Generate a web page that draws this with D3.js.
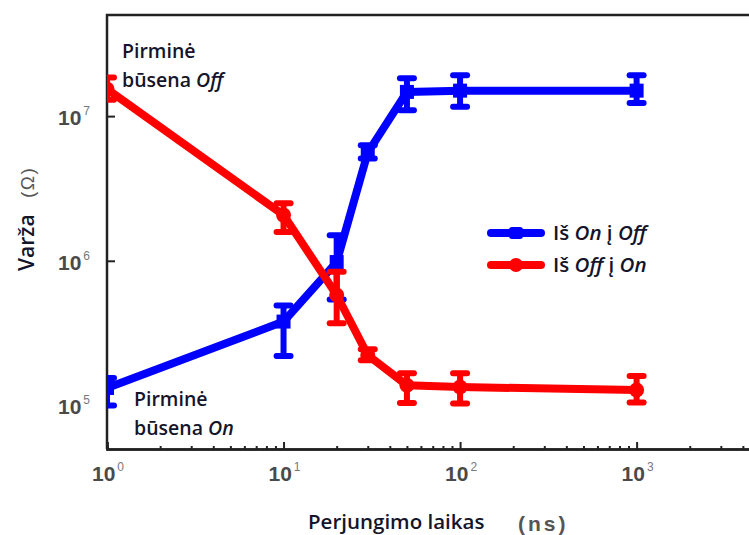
<!DOCTYPE html>
<html>
<head>
<meta charset="utf-8">
<script src="https://cdn.jsdelivr.net/npm/d3@7"></script>
<style>
  html, body { margin: 0; padding: 0; background: #fff; overflow: hidden; }
  svg { display: block; }
</style>
</head>
<body>
<svg id="chart" width="749" height="535"></svg>
<script>
// Switching time (ns) and resistance (Ω) for both switching directions
const times = [1, 10, 20, 30, 50, 100, 1000];

const onToOff     = [1.32e5, 3.8e5, 9.8e5, 5.6e6, 1.47e7, 1.5e7, 1.5e7];
const onToOffLow  = [1.0e5, 2.2e5, 5.4e5, 5.1e6, 1.1e7, 1.16e7, 1.23e7];
const onToOffHigh = [1.55e5, 4.9e5, 1.5e6, 6.3e6, 1.83e7, 1.92e7, 1.92e7];

const offToOn     = [1.54e7, 2.07e6, 5.8e5, 2.23e5, 1.38e5, 1.34e5, 1.28e5];
const offToOnLow  = [1.3e7, 1.58e6, 3.7e5, 2.05e5, 1.04e5, 1.03e5, 1.05e5];
const offToOnHigh = [1.85e7, 2.5e6, 8.4e5, 2.45e5, 1.67e5, 1.67e5, 1.6e5];

const xTickExps = [0, 1, 2, 3];
const yTickExps = [5, 6, 7];
const legendLabels = [["Iš ", "On", " į ", "Off"], ["Iš ", "Off", " į ", "On"]];

const BLUE = "#0000ff", RED = "#ff0000";
const TEXT = "#14142a", GREY = "#4a4a4a";
const SANS = "Open Sans, sans-serif";
const ARIAL = "Liberation Sans, Arial, sans-serif";

const svg = d3.select("#chart");
const plotLeft = 107, plotTop = 15, plotBottom = 449, plotRight = 760;

const x = d3.scaleLog().domain([1, 5000]).range([plotLeft, plotRight]);
const y = d3.scaleLog().domain([5e4, 5e7]).range([plotBottom, plotTop]);

// Plot clip so markers at the axis are cut at the frame
svg.append("defs").append("clipPath").attr("id", "plot")
  .append("rect").attr("x", plotLeft).attr("y", plotTop)
  .attr("width", plotRight - plotLeft).attr("height", plotBottom - plotTop);

// Frame (top and left edges)
svg.append("path")
  .attr("d", `M${plotLeft},${plotBottom} L${plotLeft},${plotTop} L${plotRight},${plotTop}`)
  .attr("fill", "none").attr("stroke", "#222").attr("stroke-width", 2.5);

// X axis with inward ticks (major + minor)
const minorX = [];
for (let e = 0; e < 4; e++) for (let k = 2; k <= 9; k++) minorX.push(k * Math.pow(10, e));
const xMinor = svg.append("g").attr("transform", `translate(0,${plotBottom})`)
  .call(d3.axisBottom(x).tickValues(minorX).tickSize(-3).tickFormat(""));
const xMajor = svg.append("g").attr("transform", `translate(0,${plotBottom})`)
  .call(d3.axisBottom(x).tickValues(xTickExps.map(e => Math.pow(10, e))).tickSize(-7).tickFormat(""));
[xMinor, xMajor].forEach(g => {
  g.select(".domain").attr("stroke", "#222").attr("stroke-width", 2.5);
  g.selectAll(".tick line").attr("stroke", "#222").attr("stroke-width", 2);
});

// Y axis with inward ticks
const yAxis = svg.append("g").attr("transform", `translate(${plotLeft},0)`)
  .call(d3.axisLeft(y).tickValues(yTickExps.map(e => Math.pow(10, e))).tickSize(-8).tickFormat(""));
yAxis.select(".domain").remove();
yAxis.selectAll(".tick line").attr("stroke", "#222").attr("stroke-width", 2);

// Power-of-ten tick labels
function powerLabel(sel, exp) {
  sel.append("tspan").text("10")
    .attr("font-size", 21).attr("font-weight", "bold").attr("fill", GREY);
  sel.append("tspan").text(exp)
    .attr("font-size", 12).attr("dy", -10).attr("dx", 2).attr("fill", "#777");
}
xTickExps.forEach(e => {
  const t = svg.append("text")
    .attr("x", x(Math.pow(10, e)) + 1).attr("y", 481)
    .attr("text-anchor", "middle").attr("font-family", ARIAL);
  powerLabel(t, e);
});
yTickExps.forEach(e => {
  const t = svg.append("text")
    .attr("x", 90).attr("y", y(Math.pow(10, e)) + 9)
    .attr("text-anchor", "end").attr("font-family", ARIAL);
  powerLabel(t, e);
});

// Axis titles
svg.append("text").attr("x", 308).attr("y", 529)
  .attr("font-family", SANS).attr("font-size", 20.5).attr("font-weight", 600)
  .attr("fill", TEXT).text("Perjungimo laikas");
svg.append("text").attr("x", 518).attr("y", 531)
  .attr("font-family", ARIAL).attr("font-size", 21).attr("font-weight", "bold")
  .attr("letter-spacing", 3).attr("fill", "#555").text("(ns)");
svg.append("text").attr("transform", "translate(34,271) rotate(-90)")
  .attr("font-family", SANS).attr("font-size", 21).attr("font-weight", 600)
  .attr("fill", TEXT).text("Varža");
svg.append("text").attr("transform", "translate(34,198) rotate(-90)")
  .attr("font-family", ARIAL).attr("font-size", 19)
  .attr("letter-spacing", 1.5).attr("fill", "#555").text("(Ω)");

// Series
const plot = svg.append("g").attr("clip-path", "url(#plot)");
const line = d3.line().x(d => x(d.t)).y(d => y(d.v));

function drawSeries(vals, lo, hi, color, marker) {
  const pts = times.map((t, i) => ({ t, v: vals[i], lo: lo[i], hi: hi[i] }));
  plot.append("path").datum(pts).attr("d", line)
    .attr("fill", "none").attr("stroke", color).attr("stroke-width", 8)
    .attr("stroke-linejoin", "round");
  const g = plot.append("g").selectAll("g").data(pts).join("g");
  g.append("line")
    .attr("x1", d => x(d.t)).attr("x2", d => x(d.t))
    .attr("y1", d => y(d.lo)).attr("y2", d => y(d.hi))
    .attr("stroke", color).attr("stroke-width", 6);
  [d => y(d.lo), d => y(d.hi)].forEach(fy => {
    g.append("line")
      .attr("x1", d => x(d.t) - 7).attr("x2", d => x(d.t) + 7)
      .attr("y1", fy).attr("y2", fy)
      .attr("stroke", color).attr("stroke-width", 6).attr("stroke-linecap", "round");
  });
  if (marker === "square") {
    g.append("rect")
      .attr("x", d => x(d.t) - 7).attr("y", d => y(d.v) - 7)
      .attr("width", 14).attr("height", 14).attr("fill", color);
  } else {
    g.append("circle")
      .attr("cx", d => x(d.t)).attr("cy", d => y(d.v)).attr("r", 7.5).attr("fill", color);
  }
}
drawSeries(onToOff, onToOffLow, onToOffHigh, BLUE, "square");
drawSeries(offToOn, offToOnLow, offToOnHigh, RED, "circle");

// Annotations
function note(xp, yp, lines) {
  const t = svg.append("text").attr("font-family", SANS)
    .attr("font-size", 19.5).attr("font-weight", 600).attr("fill", TEXT);
  lines.forEach((parts, i) => {
    parts.forEach((p, j) => {
      const ts = t.append("tspan").text(p.text);
      if (p.italic) ts.attr("font-style", "italic");
      if (j === 0) ts.attr("x", xp).attr("y", yp + i * 29);
    });
  });
}
note(122, 58, [[{ text: "Pirminė" }], [{ text: "būsena " }, { text: "Off", italic: true }]]);
note(134, 406, [[{ text: "Pirminė" }], [{ text: "būsena " }, { text: "On", italic: true }]]);

// Legend
const legend = svg.append("g");
[[BLUE, "square", 233], [RED, "circle", 265]].forEach(([c, m, ly], i) => {
  legend.append("line").attr("x1", 491).attr("x2", 541).attr("y1", ly).attr("y2", ly)
    .attr("stroke", c).attr("stroke-width", 8).attr("stroke-linecap", "round");
  if (m === "square") {
    legend.append("rect").attr("x", 509).attr("y", ly - 6).attr("width", 14).attr("height", 12)
      .attr("rx", 3).attr("fill", c);
  } else {
    legend.append("circle").attr("cx", 516).attr("cy", ly).attr("r", 7).attr("fill", c);
  }
  const t = legend.append("text").attr("x", 553).attr("y", ly + 7)
    .attr("font-family", SANS).attr("font-size", 20.5).attr("font-weight", 600).attr("fill", TEXT);
  legendLabels[i].forEach((p, j) => {
    const ts = t.append("tspan").text(p);
    if (j % 2 === 1) ts.attr("font-style", "italic");
  });
});
</script>
</body>
</html>
